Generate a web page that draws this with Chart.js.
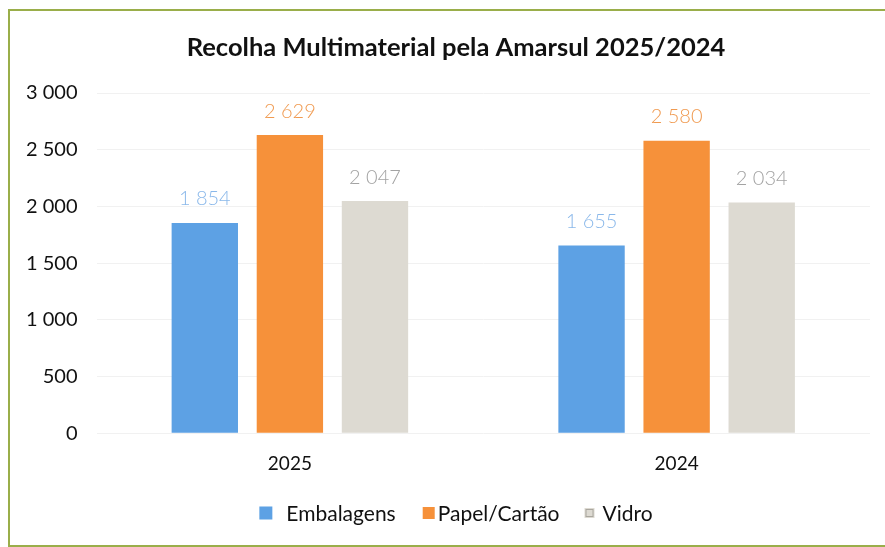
<!DOCTYPE html>
<html>
<head>
<meta charset="utf-8">
<script src="https://cdn.jsdelivr.net/npm/chart.js@4.4.1/dist/chart.umd.min.js"></script>
<style>
  html, body { margin: 0; padding: 0; background: #fff; overflow: hidden; }
  .moldura {
    position: absolute; left: 8px; top: 9px;
    width: 920px; height: 534px;
    border: 2px solid #9aae4a; border-right: none;
  }
  /* o grafico original era mais largo que o recorte */
  .caixa { position: absolute; left: 0; top: 0; width: 912px; height: 547px; }
</style>
</head>
<body>
<div class="moldura"></div>
<div class="caixa"><canvas id="grafico"></canvas></div>
<script>
// dados
const titulo = 'Recolha Multimaterial pela Amarsul 2025/2024';
const anos = ['2025', '2024'];
const embalagens = [1854, 1655];
const papel = [2629, 2580];
const vidro = [2047, 2034];
const marcasY = [0, 500, 1000, 1500, 2000, 2500, 3000];

const fonte = 'Lato, "Open Sans", sans-serif';

// numero com espaco nos milhares
function formatar(v) {
    return String(v).replace(/\B(?=(\d{3})+(?!\d))/g, ' ');
}

// valores por cima das barras
const rotulos = {
    id: 'rotulos',
    afterDatasetsDraw(chart) {
        const ctx = chart.ctx;
        ctx.save();
        ctx.font = '300 20px ' + fonte;
        ctx.textAlign = 'center';
        ctx.textBaseline = 'middle';
        chart.data.datasets.forEach((ds, i) => {
            chart.getDatasetMeta(i).data.forEach((bar, j) => {
                ctx.fillStyle = ds.corRotulo;
                ctx.fillText(formatar(ds.data[j]), bar.x, bar.y - 24);
            });
        });
        ctx.restore();
    }
};

// titulo e legenda desenhados a mao (centrados no grafico inteiro, nao so no recorte)
const textos = {
    id: 'textos',
    afterDraw(chart) {
        const ctx = chart.ctx;
        const meio = chart.width / 2;
        ctx.save();
        ctx.fillStyle = '#111';
        ctx.textBaseline = 'middle';
        ctx.textAlign = 'center';
        ctx.font = 'bold 25.5px ' + fonte;
        ctx.fillText(titulo, meio, 48);

        // legenda (o excel deixa espacos diferentes entre caixa e texto)
        const dss = chart.data.datasets;
        const caixa = [13, 12, 10];
        const folga = [14, 3, 8];
        const entre = [27, 25];
        ctx.font = '21px ' + fonte;
        ctx.textAlign = 'left';
        let total = 0;
        dss.forEach((ds, i) => {
            total += caixa[i] + folga[i] + ctx.measureText(ds.label).width;
            if (i < dss.length - 1) total += entre[i];
        });
        let x = meio - total / 2;
        const y = 513;
        dss.forEach((ds, i) => {
            const c = caixa[i];
            ctx.fillStyle = ds.backgroundColor;
            ctx.fillRect(x, y - c / 2, c, c);
            if (ds.label === 'Vidro') {
                ctx.strokeStyle = '#aaa79f';
                ctx.lineWidth = 1;
                ctx.strokeRect(x + 1.5, y - c / 2 + 1.5, c - 3, c - 3);
            }
            x += c + folga[i];
            ctx.fillStyle = '#111';
            ctx.fillText(ds.label, x, y + 1);
            x += ctx.measureText(ds.label).width + (entre[i] || 0);
        });
        ctx.restore();
    }
};

new Chart(document.getElementById('grafico'), {
    type: 'bar',
    data: {
        labels: anos,
        datasets: [
            { label: 'Embalagens', data: embalagens, backgroundColor: '#5da1e4', corRotulo: '#8ab8ea' },
            { label: 'Papel/Cartão', data: papel, backgroundColor: '#f6913a', corRotulo: '#f09a50' },
            { label: 'Vidro', data: vidro, backgroundColor: '#dddad2', corRotulo: '#a3a3a3' }
        ]
    },
    options: {
        responsive: true,
        maintainAspectRatio: false,
        animation: false,
        categoryPercentage: 0.66,
        barPercentage: 0.78,
        layout: { padding: { left: 7, right: 42, top: 93, bottom: 61 } },
        plugins: {
            legend: { display: false },
            tooltip: { enabled: false }
        },
        scales: {
            x: {
                grid: { display: false },
                border: { display: false },
                ticks: { color: '#111', font: { family: fonte, size: 19 }, padding: 11 }
            },
            y: {
                min: 0,
                max: 3000,
                afterBuildTicks: (axis) => { axis.ticks = marcasY.map(v => ({ value: v })); },
                grid: { color: '#f1f1f1', drawTicks: false },
                border: { display: false },
                ticks: {
                    color: '#111',
                    font: { family: fonte, size: 20 },
                    padding: 19,
                    callback: (v) => formatar(v)
                }
            }
        }
    },
    plugins: [rotulos, textos]
});
</script>
</body>
</html>
